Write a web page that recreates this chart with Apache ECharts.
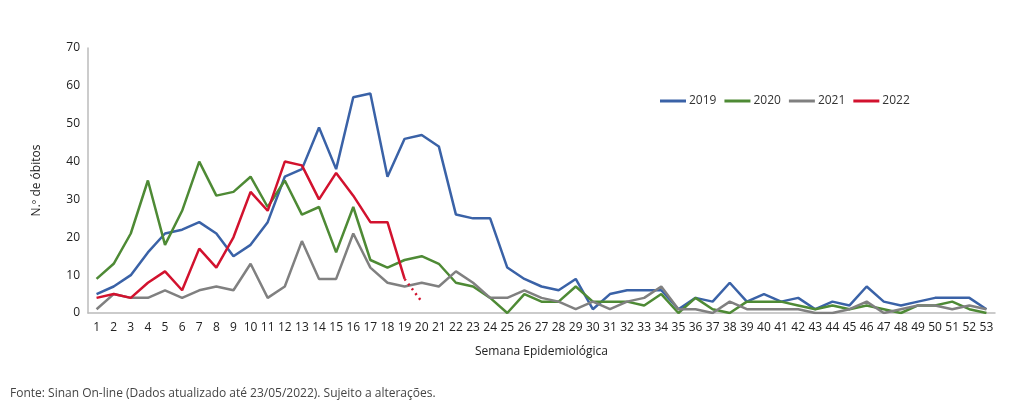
<!DOCTYPE html>
<html><head><meta charset="utf-8">
<script src="https://cdn.jsdelivr.net/npm/echarts@6/dist/echarts.min.js"></script>
<style>html,body{margin:0;background:#fff}#main{width:1024px;height:412px}</style>
</head><body><div id="main"></div>
<script>
var weeks = [];
for (var i = 1; i <= 53; i++) weeks.push(String(i));
var d2019 = [5,7,10,16,21,22,24,21,15,18,24,36,38,49,38,57,58,36,46,47,44,26,25,25,12,9,7,6,9,1,5,6,6,6,1,4,3,8,3,5,3,4,1,3,2,7,3,2,3,4,4,4,1];
var d2020 = [9,13,21,35,18,27,40,31,32,36,28,35,26,28,16,28,14,12,14,15,13,8,7,4,0,5,3,3,7,3,3,3,2,5,0,4,1,0,3,3,3,2,1,2,1,2,1,0,2,2,3,1,0];
var d2021 = [1,5,4,4,6,4,6,7,6,13,4,7,19,9,9,21,12,8,7,8,7,11,8,4,4,6,4,3,1,3,1,3,4,7,1,1,0,3,1,1,1,1,0,0,1,3,0,1,2,2,1,2,1];
var d2022 = [4,5,4,8,11,6,17,12,20,32,27,40,39,30,37,31,24,24,9];
var d2022tail = [];
for (var j = 0; j < 18; j++) d2022tail.push(null);
d2022tail.push(9, 3);

var font = "'Open Sans', sans-serif";
function line(name, data, color, dashed) {
  return {
    name: name, type: 'line', data: data, symbol: 'none',
    lineStyle: {color: color, width: 2.5, type: dashed ? [2, 4] : 'solid'},
    itemStyle: {color: color}
  };
}
var chart = echarts.init(document.getElementById('main'));
chart.setOption({
  animation: false,
  textStyle: {fontFamily: font},
  grid: {left: 88, right: 29, top: 48, bottom: 99},
  legend: {
    left: 655, top: 90, itemWidth: 26, itemHeight: 3, itemGap: 8,
    icon: 'rect',
    textStyle: {fontSize: 12, color: '#333', fontFamily: font, padding: [0, 0, 0, -2]},
    data: ['2019', '2020', '2021', '2022']
  },
  xAxis: {
    type: 'category', data: weeks,
    name: 'Semana Epidemiológica', nameLocation: 'middle', nameGap: 33,
    nameTextStyle: {fontSize: 12, color: '#222'},
    axisLine: {lineStyle: {color: '#bbb', width: 1.5}},
    axisTick: {show: false},
    axisLabel: {interval: 0, fontSize: 12, color: '#222', margin: 9}
  },
  yAxis: {
    type: 'value', min: 0, max: 70, interval: 10,
    name: 'N.º de óbitos', nameLocation: 'middle', nameGap: 45,
    nameTextStyle: {fontSize: 12, color: '#222'},
    axisLine: {show: true, lineStyle: {color: '#bbb', width: 1.5}},
    splitLine: {show: false},
    axisLabel: {fontSize: 12, color: '#222'}
  },
  graphic: [{
    type: 'text', left: 10, top: 388,
    style: {text: 'Fonte: Sinan On-line (Dados atualizado até 23/05/2022). Sujeito a alterações.', fontSize: 12, fill: '#444', fontFamily: font}
  }],
  series: [
    line('2019', d2019, '#3a62a7'),
    line('2020', d2020, '#4e8a35'),
    line('2021', d2021, '#808080'),
    line('2022', d2022, '#d2122e'),
    line('2022tail', d2022tail, '#d2122e', true)
  ]
});
</script></body></html>
